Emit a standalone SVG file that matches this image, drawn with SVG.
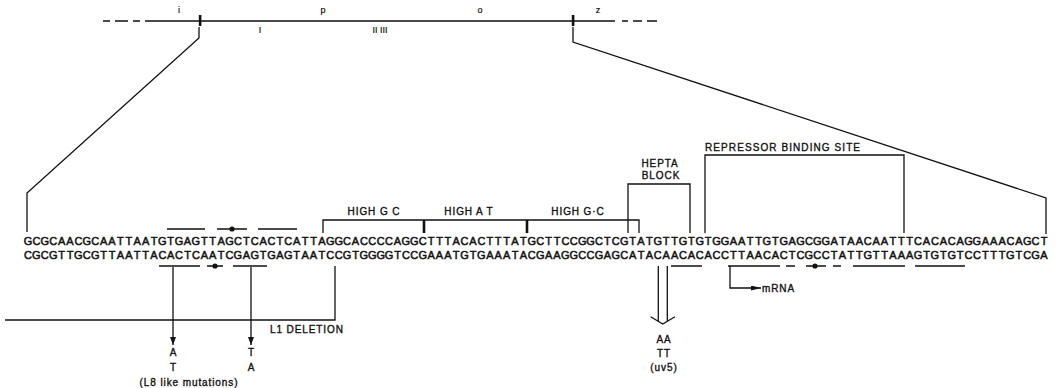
<svg xmlns="http://www.w3.org/2000/svg" width="1059" height="388" viewBox="0 0 1059 388">
<defs>
<style>
.ln{fill:none;stroke:#111;stroke-width:1.3}
.thk{fill:none;stroke:#111;stroke-width:2.6}
.seq{font-family:"Liberation Sans",Arial,sans-serif;font-size:11px;fill:#111;stroke:#111;stroke-width:0.5;text-anchor:middle}
.lab{font-family:"Liberation Sans",Arial,sans-serif;font-size:10px;fill:#111;stroke:#111;stroke-width:0.35;letter-spacing:0.9px}
.sm{font-family:"Liberation Sans",Arial,sans-serif;font-size:9px;fill:#111;stroke:#111;stroke-width:0.2}
.mid{text-anchor:middle}
</style>
<marker id="ah" markerWidth="8" markerHeight="6" refX="8" refY="3" orient="auto" markerUnits="userSpaceOnUse">
<path d="M0,0 L8,3 L0,6 z" fill="#111"/>
</marker>
<marker id="ah2" markerWidth="10" markerHeight="5" refX="10" refY="2.5" orient="auto" markerUnits="userSpaceOnUse">
<path d="M0,0 L10,2.5 L0,5 z" fill="#111"/>
</marker>
</defs>
<rect width="1059" height="388" fill="#fff"/>

<g id="map">
<path class="ln" d="M103,21H110M115,21H128M133,21H140M145,21H615M622,21H628M633,21H642M647,21H657"/>
<rect x="198.8" y="15" width="2.6" height="11" fill="#111"/>
<rect x="571.8" y="15" width="2.6" height="11" fill="#111"/>
<text class="sm mid" x="179" y="13">i</text>
<text class="sm mid" x="323" y="13">p</text>
<text class="sm mid" x="480" y="13">o</text>
<text class="sm mid" x="598" y="13">z</text>
<text class="sm mid" x="260" y="33">I</text>
<text class="sm mid" x="380" y="33">II III</text>
</g>

<g id="top-strand">
<text class="seq" y="245" x="28 36.4 44.8 53.2 61.6 70 78.4 86.8 95.2 103.6 112 120.4 128.8 137.2 145.6 154 162.4 170.7 179.1 187.5 195.9 204.3 212.7 221.1 229.5 237.9 246.3 254.7 263.1 271.5 279.9 288.3 296.7 305.1 313.5 321.9 330.3 338.7 347.1 355.5 363.9 372.3 380.7 389.1 397.5 405.9 414.3 422.7 431.1 439.5 447.9 456.2 464.6 473 481.4 489.8 498.2 506.6 515 523.4 531.8 540.2 548.6 557 565.4 573.8 582.2 590.6 599 607.4 615.8 624.2 632.6 641 649.4 657.8 666.2 674.6 683 691.4 699.8 708.2 716.6 725 733.3 741.7 750.1 758.5 766.9 775.3 783.7 792.1 800.5 808.9 817.3 825.7 834.1 842.5 850.9 859.3 867.7 876.1 884.5 892.9 901.3 909.7 918.1 926.5 934.9 943.3 951.7 960.1 968.5 976.9 985.3 993.7 1002.1 1010.4 1018.8 1027.2 1035.6 1044">GCGCAACGCAATTAATGTGAGTTAGCTCACTCATTAGGCACCCCAGGCTTTACACTTTATGCTTCCGGCTCGTATGTTGTGTGGAATTGTGAGCGGATAACAATTTCACACAGGAAACAGCT</text>
<path class="ln" d="M167,229H205M217,229H247M258,229H297"/>
<circle cx="232" cy="229" r="2.6" fill="#111"/>
</g>

<g id="bottom-strand">
<text class="seq" y="259" x="28 36.4 44.8 53.2 61.6 70 78.4 86.8 95.2 103.6 112 120.4 128.8 137.2 145.6 154 162.4 170.7 179.1 187.5 195.9 204.3 212.7 221.1 229.5 237.9 246.3 254.7 263.1 271.5 279.9 288.3 296.7 305.1 313.5 321.9 330.3 338.7 347.1 355.5 363.9 372.3 380.7 389.1 397.5 405.9 414.3 422.7 431.1 439.5 447.9 456.2 464.6 473 481.4 489.8 498.2 506.6 515 523.4 531.8 540.2 548.6 557 565.4 573.8 582.2 590.6 599 607.4 615.8 624.2 632.6 641 649.4 657.8 666.2 674.6 683 691.4 699.8 708.2 716.6 725 733.3 741.7 750.1 758.5 766.9 775.3 783.7 792.1 800.5 808.9 817.3 825.7 834.1 842.5 850.9 859.3 867.7 876.1 884.5 892.9 901.3 909.7 918.1 926.5 934.9 943.3 951.7 960.1 968.5 976.9 985.3 993.7 1002.1 1010.4 1018.8 1027.2 1035.6 1044">CGCGTTGCGTTAATTACACTCAATCGAGTGAGTAATCCGTGGGGTCCGAAATGTGAAATACGAAGGCCGAGCATACAACACACCTTAACACTCGCCTATTGTTAAAGTGTGTCCTTTGTCGA</text>
<path class="ln" d="M159,266H200M207,266H223M233,266H267"/>
<circle cx="215" cy="266" r="2.6" fill="#111"/>
<path class="ln" d="M671,266H702M728,266H780M786,266H795M806,266H826M833,266H841M853,266H905M915,266H965"/>
<circle cx="815" cy="266" r="2.6" fill="#111"/>
</g>

<g id="high-gc-at">
<path class="ln" d="M323,233V220H639V233"/>
<path class="thk" d="M424,220V233M527,220V233"/>
<text class="lab mid" x="374" y="215">HIGH G C</text>
<text class="lab mid" x="469" y="215">HIGH A T</text>
<text class="lab mid" x="578" y="215">HIGH G·C</text>
</g>

<g id="hepta-block">
<path class="ln" d="M628,233V184H690V233"/>
<text class="lab mid" x="660" y="167">HEPTA</text>
<text class="lab mid" x="661" y="179">BLOCK</text>
</g>

<g id="repressor-site">
<path class="ln" d="M705,233V155H904V233"/>
<text class="lab" x="705" y="151" textLength="155" lengthAdjust="spacing" style="letter-spacing:0">REPRESSOR BINDING SITE</text>
</g>

<g id="l1-deletion">
<text class="lab" x="270" y="333">L1 DELETION</text>
</g>

<g id="l8-mutations">
<text class="lab mid" x="173.5" y="356">A</text>
<text class="lab mid" x="173.5" y="371">T</text>
<text class="lab mid" x="251.5" y="356">T</text>
<text class="lab mid" x="251.5" y="371">A</text>
<text class="lab mid" x="189" y="386">(L8 like mutations)</text>
</g>

<g id="uv5">
<text class="lab mid" x="664" y="343">AA</text>
<text class="lab mid" x="664" y="357">TT</text>
<text class="lab mid" x="664" y="371">(uv5)</text>
</g>

<g id="mrna">
<text class="lab" x="762" y="292">mRNA</text>
</g>

<g id="connectors">
<polyline class="ln" points="199,27 199,38 27,193 27,232"/>
<polyline class="ln" points="573,27 573,42 1046,198 1046,234"/>
<polyline class="ln" points="5,320 335,320 335,266"/>
<line class="ln" x1="173" y1="267" x2="173" y2="345" marker-end="url(#ah)"/>
<line class="ln" x1="251" y1="267" x2="251" y2="345" marker-end="url(#ah)"/>
<path class="ln" d="M658.3,266V321.3M667.3,266V320.7M650.7,316.7L662.7,324L675,316.7"/>
<polyline class="ln" points="730,266 730,288 761,288" marker-end="url(#ah2)"/>
</g>
</svg>
